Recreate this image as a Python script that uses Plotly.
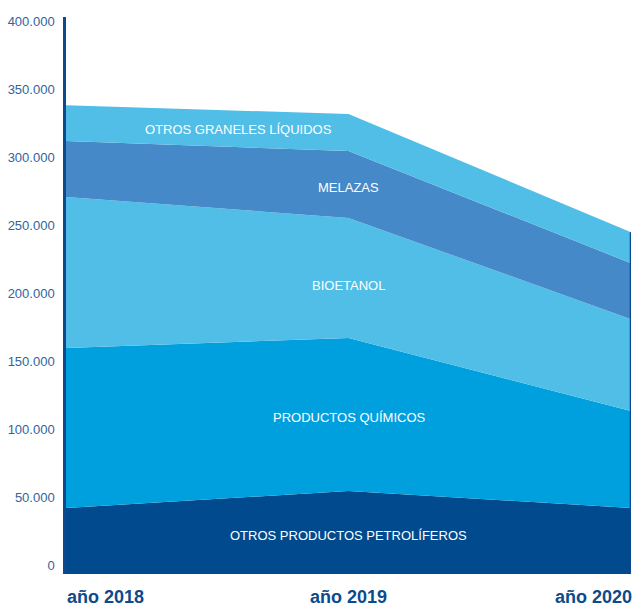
import plotly.graph_objects as go

# Years and tonnage per liquid-bulk category (stacked bottom to top)
years = ["año 2018", "año 2019", "año 2020"]
petroliferos = [48600, 61100, 48600]
quimicos = [117800, 112700, 71400]
bioetanol = [111200, 88400, 67700]
melazas = [41200, 49300, 41200]
otros_graneles = [26500, 27200, 22800]

series_names = [
    "OTROS PRODUCTOS PETROLÍFEROS",
    "PRODUCTOS QUÍMICOS",
    "BIOETANOL",
    "MELAZAS",
    "OTROS GRANELES LÍQUIDOS",
]
series_values = [petroliferos, quimicos, bioetanol, melazas, otros_graneles]
series_colors = ["#004a8d", "#00a0df", "#50bee7", "#4589c8", "#50bee7"]

y_ticks = [0, 50000, 100000, 150000, 200000, 250000, 300000, 350000, 400000]
y_tick_text = ["0", "50.000", "100.000", "150.000", "200.000",
               "250.000", "300.000", "350.000", "400.000"]

NAVY = "#0b4a8c"
FONT = "Liberation Sans, Arial, Helvetica, sans-serif"

x_idx = list(range(len(years)))

fig = go.Figure()
for name, vals, color in zip(series_names, series_values, series_colors):
    fig.add_trace(go.Scatter(
        x=x_idx, y=vals, name=name, mode="lines",
        stackgroup="one", line=dict(width=0, color=color),
        fillcolor=color, hoverinfo="skip", showlegend=False,
    ))

# Right-hand edge line up to the 2020 total
total_last = sum(v[-1] for v in series_values)
fig.add_trace(go.Scatter(
    x=[x_idx[-1], x_idx[-1]], y=[0, total_last], mode="lines",
    line=dict(color=NAVY, width=2.5), hoverinfo="skip", showlegend=False,
))

# In-area labels: (x, y) in data units
label_pos = [
    (1.0, 28700),
    (1.0, 114900),
    (1.0, 212800),
    (1.0, 284300),
    (0.61, 327700),
]
for name, (lx, ly) in zip(series_names, label_pos):
    fig.add_annotation(x=lx, y=ly, text=name, showarrow=False,
                       font=dict(family=FONT, size=13, color="white"),
                       xanchor="center", yanchor="middle")

# Year labels under the chart
anchors = ["left", "center", "right"]
shifts = [-1, 0, 3]
for i, (yr, anc, sh) in enumerate(zip(years, anchors, shifts)):
    fig.add_annotation(x=i, y=-0.041, yref="paper", text=f"<b>{yr}</b>",
                       showarrow=False, xanchor=anc, yanchor="middle",
                       xshift=sh,
                       font=dict(family=FONT, size=18, color=NAVY))

fig.update_layout(
    width=634, height=606,
    margin=dict(l=66, r=3, t=17, b=32),
    paper_bgcolor="white", plot_bgcolor="white",
    xaxis=dict(range=[0, 2], showgrid=False, zeroline=False,
               showticklabels=False, showline=False),
    yaxis=dict(range=[0, 410200], tickvals=y_ticks, ticktext=y_tick_text,
               showgrid=False, zeroline=False, showline=True,
               linecolor=NAVY, linewidth=2.5, ticks="",
               ticklabelshift=-9, ticklabelstandoff=6,
               tickfont=dict(family=FONT, size=13, color="#2f64a0")),
)

fig.write_html("out.html")
